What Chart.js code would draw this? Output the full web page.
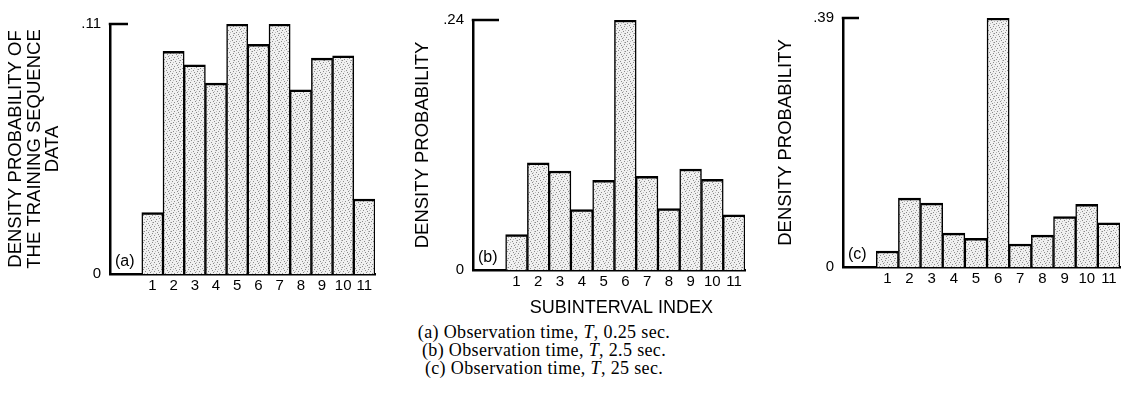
<!DOCTYPE html>
<html>
<head>
<meta charset="utf-8">
<script src="https://cdn.jsdelivr.net/npm/chart.js@4.4.1/dist/chart.umd.min.js"></script>
<style>
  html, body { margin: 0; padding: 0; background: #fff; }
  #wrap { position: relative; width: 1122px; height: 411px; overflow: hidden; }
  #wrap canvas { position: absolute; top: 0; }
  #captions {
    position: absolute; left: 344px; width: 400px; top: 323px;
    text-align: center; color: #000;
    font-family: 'Liberation Serif', 'Times New Roman', serif;
    font-size: 18px; line-height: 18px; letter-spacing: 0.35px;
  }
</style>
</head>
<body>
<div id="wrap">
  <canvas id="panelA" width="380" height="300" style="left:0px"></canvas>
  <canvas id="panelB" width="350" height="320" style="left:400px"></canvas>
  <canvas id="panelC" width="362" height="300" style="left:760px"></canvas>
  <div id="captions"></div>
</div>
<script>
// Subinterval indices and their tick labels
const subintervals = [1, 2, 3, 4, 5, 6, 7, 8, 9, 10, 11];
const tickLabels = ['1', '2', '3', '4', '5', '6', '7', '8', '9', '10', '11'];

// Density probability per subinterval, one list per observation time
const densityA = [0.027, 0.098, 0.092, 0.084, 0.110, 0.101, 0.110, 0.081, 0.095, 0.096, 0.033];
const densityB = [0.034, 0.103, 0.095, 0.058, 0.086, 0.240, 0.090, 0.059, 0.097, 0.087, 0.053];
const densityC = [0.025, 0.108, 0.100, 0.053, 0.045, 0.390, 0.036, 0.050, 0.079, 0.098, 0.069];

// Upper end of each vertical axis (the only labelled value besides 0)
const axisTops = [0.11, 0.24, 0.39];

const panelTags = ['(a)', '(b)', '(c)'];
const yTitles = [
  ['DENSITY PROBABILITY OF', 'THE TRAINING SEQUENCE', 'DATA'],
  'DENSITY PROBABILITY',
  'DENSITY PROBABILITY'
];
const xTitle = 'SUBINTERVAL INDEX';
const captionLines = [
  ['(a) Observation time, ', 'T', ', 0.25 sec.'],
  ['(b) Observation time, ', 'T', ', 2.5 sec.'],
  ['(c) Observation time, ', 'T', ', 25 sec.']
];

const SANS = "'Liberation Sans', Arial, Helvetica, sans-serif";
Chart.defaults.font.family = SANS;
Chart.defaults.color = '#000';

// Fine stippled fill used for every bar
function stipplePattern() {
  const c = document.createElement('canvas');
  c.width = 9; c.height = 9;
  const g = c.getContext('2d');
  g.fillStyle = '#f0f0f0';
  g.fillRect(0, 0, 9, 9);
  const dark = [[1, 1], [5, 0], [3, 3], [7, 4], [0, 6], [4, 7], [8, 8], [6, 2], [2, 5]];
  const mid = [[7, 1], [2, 8], [5, 5], [0, 3], [8, 6]];
  g.fillStyle = '#8a8a8a';
  dark.forEach(([x, y]) => g.fillRect(x, y, 1, 1));
  g.fillStyle = '#bdbdbd';
  mid.forEach(([x, y]) => g.fillRect(x, y, 1, 1));
  return g.createPattern(c, 'repeat');
}

// Short inward tick at the top of the vertical axis, the panel tag,
// and (for the middle panel) the axis caption centred under the bars
const framePlugin = {
  id: 'frame',
  afterDraw(chart, args, opts) {
    const { ctx, chartArea } = chart;
    const x = chart.scales.x;
    const y = chart.scales.y;
    const yTop = y.getPixelForValue(y.max);
    ctx.save();
    ctx.strokeStyle = '#000';
    ctx.lineWidth = 2.5;
    ctx.beginPath();
    ctx.moveTo(chartArea.left - 1.25, yTop);
    ctx.lineTo(chartArea.left + opts.tickLen, yTop);
    ctx.stroke();
    ctx.fillStyle = '#000';
    ctx.font = '16px ' + SANS;
    ctx.textAlign = 'left';
    ctx.textBaseline = 'alphabetic';
    ctx.fillText(opts.tag, chartArea.left + 5, chartArea.bottom - 8);
    if (opts.xTitle) {
      const mid = subintervals[Math.floor(subintervals.length / 2)];
      ctx.font = '18px ' + SANS;
      ctx.textAlign = 'center';
      ctx.textBaseline = 'middle';
      ctx.fillText(opts.xTitle, x.getPixelForValue(mid) - 4, chartArea.bottom + 38);
    }
    ctx.restore();
  }
};

function formatDensity(v) {
  return v === 0 ? '0' : v.toFixed(2).replace(/^0/, '');
}

function buildPanel(canvasId, values, idx, geom) {
  const fill = stipplePattern();
  const top = axisTops[idx];
  return new Chart(document.getElementById(canvasId), {
    type: 'bar',
    data: {
      datasets: [{
        data: subintervals.map((s, k) => ({ x: s, y: values[k] })),
        backgroundColor: fill,
        borderColor: '#000',
        borderWidth: { top: 2.5, left: 1.5, right: 1.5, bottom: 0 },
        borderSkipped: 'start',
        barPercentage: 1,
        categoryPercentage: 1
      }]
    },
    options: {
      responsive: false,
      animation: false,
      events: [],
      layout: { padding: { top: geom.top, right: geom.right, left: 0, bottom: 0 } },
      plugins: {
        legend: { display: false },
        tooltip: { enabled: false },
        frame: { tickLen: geom.tickLen, tag: panelTags[idx], xTitle: geom.showXTitle ? xTitle : null }
      },
      scales: {
        x: {
          type: 'linear',
          min: -1,
          max: 11.5,
          offset: false,
          z: 1,
          grid: { display: false, drawTicks: false },
          border: { display: true, color: '#000', width: 2.5 },
          afterBuildTicks: s => { s.ticks = subintervals.map(v => ({ value: v })); },
          afterFit: s => { s.height = geom.xHeight; },
          ticks: {
            autoSkip: false,
            maxRotation: 0,
            padding: 3,
            font: { size: 15 },
            callback: v => tickLabels[subintervals.indexOf(v)] ?? ''
          }
        },
        y: {
          min: 0,
          max: top,
          z: 1,
          grid: { display: false, drawTicks: false },
          border: { display: true, color: '#000', width: 2.5 },
          afterBuildTicks: s => { s.ticks = [{ value: 0 }, { value: top }]; },
          afterFit: s => { s.width = geom.yWidth; },
          ticks: {
            padding: 9,
            font: { size: 15 },
            callback: v => formatDensity(v)
          },
          title: {
            display: true,
            text: yTitles[idx],
            font: { size: 18.5, lineHeight: '18.5px' },
            padding: { top: geom.titlePad, bottom: 0 }
          }
        }
      }
    },
    plugins: [framePlugin]
  });
}

buildPanel('panelA', densityA, 0, { top: 24, right: 5, yWidth: 110, xHeight: 26, tickLen: 18, titlePad: 7, showXTitle: false });
buildPanel('panelB', densityB, 1, { top: 20, right: 5, yWidth: 73, xHeight: 50, tickLen: 26, titlePad: 14, showXTitle: true });
buildPanel('panelC', densityC, 2, { top: 15, right: 2, yWidth: 83, xHeight: 33, tickLen: 16, titlePad: 17, showXTitle: false });

// Figure captions under the panels
const cap = document.getElementById('captions');
captionLines.forEach(parts => {
  const line = document.createElement('div');
  line.append(parts[0]);
  const t = document.createElement('i');
  t.textContent = parts[1];
  line.append(t, parts[2]);
  cap.appendChild(line);
});
</script>
</body>
</html>
